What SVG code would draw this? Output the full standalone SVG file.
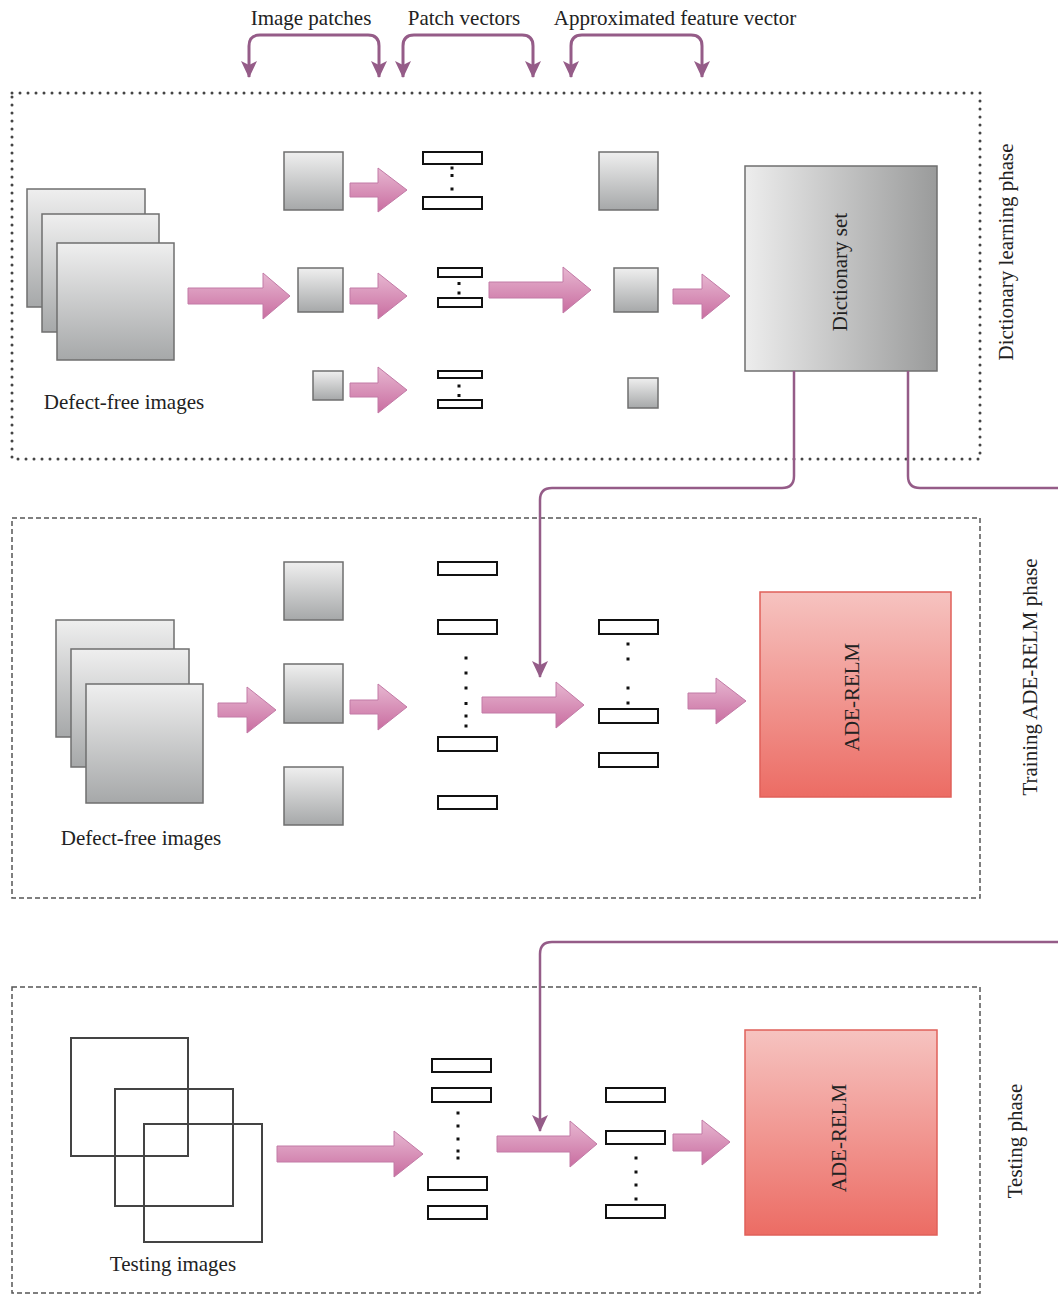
<svg xmlns="http://www.w3.org/2000/svg" width="1058" height="1294" viewBox="0 0 1058 1294">
<defs>
<linearGradient id="gGray" x1="0" y1="0" x2="0" y2="1"><stop offset="0" stop-color="#efefef"/><stop offset="1" stop-color="#a6a8a9"/></linearGradient>
<linearGradient id="gDict" x1="0" y1="0" x2="1" y2="0"><stop offset="0" stop-color="#ededed"/><stop offset="1" stop-color="#9a9b9b"/></linearGradient>
<linearGradient id="gRed" x1="0" y1="0" x2="0" y2="1"><stop offset="0" stop-color="#f6c3c0"/><stop offset="1" stop-color="#ec6c64"/></linearGradient>
<linearGradient id="gPink" x1="0" y1="0" x2="0" y2="1"><stop offset="0" stop-color="#e7b7d1"/><stop offset="1" stop-color="#c96da0"/></linearGradient>
<marker id="mArrow" viewBox="0 0 18 18" refX="16" refY="9" markerWidth="18" markerHeight="18" markerUnits="userSpaceOnUse" orient="auto">
<path d="M0,1 L17,9 L0,17 L4,9 Z" fill="#955c88"/>
</marker>
<style>
.txt{font-family:"Liberation Serif","Times New Roman",serif;font-size:21px;fill:#222}
.patch{fill:url(#gGray);stroke:#6f6f6f;stroke-width:1.5}
.vec{fill:#fff;stroke:#111;stroke-width:2}
.dot{fill:#111}
.parrow{fill:url(#gPink);stroke:#c27aa6;stroke-width:1}
.conn{fill:none;stroke:#955c88;stroke-width:2.5;marker-end:url(#mArrow)}
.conn2{fill:none;stroke:#955c88;stroke-width:2.5}
.bracket{fill:none;stroke:#955c88;stroke-width:3;marker-end:url(#mArrow)}
.dotted{fill:none;stroke:#444;stroke-width:3;stroke-dasharray:0 8;stroke-linecap:round}
.dashed{fill:none;stroke:#555;stroke-width:1.5;stroke-dasharray:5 3}
.timg{fill:none;stroke:#444;stroke-width:2}
</style>
</defs>
<rect width="1058" height="1294" fill="#fff"/>

<!-- phase boxes -->
<g id="phase-dictionary">
<rect class="dotted" x="12" y="93" width="968" height="366"/>
<text class="txt" transform="rotate(-90 1006 252)" x="1006" y="259" text-anchor="middle">Dictionary learning phase</text>
</g>
<g id="phase-training">
<rect class="dashed" x="12" y="518" width="968" height="380"/>
<text class="txt" transform="rotate(-90 1030 677)" x="1030" y="684" text-anchor="middle">Training ADE-RELM phase</text>
</g>
<g id="phase-testing">
<rect class="dashed" x="12" y="987" width="968" height="306"/>
<text class="txt" transform="rotate(-90 1015 1141)" x="1015" y="1148" text-anchor="middle">Testing phase</text>
</g>

<!-- top labels -->
<g id="labels">
<text class="txt" x="311" y="25" text-anchor="middle">Image patches</text>
<text class="txt" x="464" y="25" text-anchor="middle">Patch vectors</text>
<text class="txt" x="675" y="25" text-anchor="middle">Approximated feature vector</text>
</g>

<!-- Row 1: dictionary learning -->
<g id="dl-images">
<rect class="patch" x="27" y="189" width="118" height="118"/>
<rect class="patch" x="42" y="214" width="117" height="118"/>
<rect class="patch" x="57" y="243" width="117" height="117"/>
<text class="txt" x="124" y="409" text-anchor="middle">Defect-free images</text>
</g>
<g id="dl-patches">
<rect class="patch" x="284" y="152" width="59" height="58"/>
<rect class="patch" x="298" y="268" width="45" height="44"/>
<rect class="patch" x="313" y="371" width="30" height="29"/>
</g>
<g id="dl-vectors">
<rect class="vec" x="423" y="152" width="59" height="12"/>
<rect class="vec" x="423" y="197" width="59" height="12"/>
<rect class="dot" x="450.5" y="166.5" width="3" height="3"/>
<rect class="dot" x="450.5" y="174" width="3" height="3"/>
<rect class="dot" x="450.5" y="187.5" width="3" height="3"/>
<rect class="vec" x="438" y="268" width="44" height="9"/>
<rect class="vec" x="438" y="298" width="44" height="9"/>
<rect class="dot" x="457.5" y="282" width="3" height="3"/>
<rect class="dot" x="457.5" y="291.5" width="3" height="3"/>
<rect class="vec" x="438" y="371" width="44" height="7"/>
<rect class="vec" x="438" y="400" width="44" height="8"/>
<rect class="dot" x="457.5" y="384.5" width="3" height="3"/>
<rect class="dot" x="457.5" y="394" width="3" height="3"/>
</g>
<g id="dl-approx">
<rect class="patch" x="599" y="152" width="59" height="58"/>
<rect class="patch" x="614" y="268" width="44" height="44"/>
<rect class="patch" x="628" y="378" width="30" height="30"/>
</g>
<g id="dictionary-set">
<rect x="745" y="166" width="192" height="205" fill="url(#gDict)" stroke="#6f6f6f" stroke-width="1.5"/>
<text class="txt" transform="rotate(-90 840 272)" x="840" y="279" text-anchor="middle">Dictionary set</text>
</g>

<!-- Row 2: training -->
<g id="tr-images">
<rect class="patch" x="56" y="620" width="118" height="117"/>
<rect class="patch" x="71" y="649" width="118" height="118"/>
<rect class="patch" x="86" y="684" width="117" height="119"/>
<text class="txt" x="141" y="845" text-anchor="middle">Defect-free images</text>
</g>
<g id="tr-patches">
<rect class="patch" x="284" y="562" width="59" height="58"/>
<rect class="patch" x="284" y="664" width="59" height="59"/>
<rect class="patch" x="284" y="767" width="59" height="58"/>
</g>
<g id="tr-vectors">
<rect class="vec" x="438" y="562" width="59" height="13"/>
<rect class="vec" x="438" y="620" width="59" height="14"/>
<rect class="vec" x="438" y="737" width="59" height="14"/>
<rect class="vec" x="438" y="796" width="59" height="13"/>
<rect class="dot" x="464.5" y="656.5" width="3" height="3"/>
<rect class="dot" x="464.5" y="671.5" width="3" height="3"/>
<rect class="dot" x="464.5" y="686.5" width="3" height="3"/>
<rect class="dot" x="464.5" y="702" width="3" height="3"/>
<rect class="dot" x="464.5" y="714.5" width="3" height="3"/>
<rect class="dot" x="464.5" y="724.5" width="3" height="3"/>
</g>
<g id="tr-features">
<rect class="vec" x="599" y="620" width="59" height="14"/>
<rect class="vec" x="599" y="709" width="59" height="14"/>
<rect class="vec" x="599" y="753" width="59" height="14"/>
<rect class="dot" x="626.5" y="642.5" width="3" height="3"/>
<rect class="dot" x="626.5" y="657.5" width="3" height="3"/>
<rect class="dot" x="626.5" y="686.5" width="3" height="3"/>
<rect class="dot" x="626.5" y="701.5" width="3" height="3"/>
</g>
<g id="tr-adrelm">
<rect x="760" y="592" width="191" height="205" fill="url(#gRed)" stroke="#e0605a" stroke-width="1.5"/>
<text class="txt" transform="rotate(-90 852 697)" x="852" y="704" text-anchor="middle">ADE-RELM</text>
</g>

<!-- Row 3: testing -->
<g id="te-images">
<rect class="timg" x="71" y="1038" width="117" height="118"/>
<rect class="timg" x="115" y="1089" width="118" height="117"/>
<rect class="timg" x="144" y="1124" width="118" height="118"/>
<text class="txt" x="173" y="1271" text-anchor="middle">Testing images</text>
</g>
<g id="te-vectors">
<rect class="vec" x="432" y="1059" width="59" height="13"/>
<rect class="vec" x="432" y="1088" width="59" height="14"/>
<rect class="vec" x="428" y="1177" width="59" height="13"/>
<rect class="vec" x="428" y="1206" width="59" height="13"/>
<rect class="dot" x="456.5" y="1111.5" width="3" height="3"/>
<rect class="dot" x="456.5" y="1124.5" width="3" height="3"/>
<rect class="dot" x="456.5" y="1137.5" width="3" height="3"/>
<rect class="dot" x="456.5" y="1149.5" width="3" height="3"/>
<rect class="dot" x="456.5" y="1156.5" width="3" height="3"/>
</g>
<g id="te-features">
<rect class="vec" x="606" y="1088" width="59" height="14"/>
<rect class="vec" x="606" y="1131" width="59" height="13"/>
<rect class="vec" x="606" y="1205" width="59" height="13"/>
<rect class="dot" x="634.5" y="1156.5" width="3" height="3"/>
<rect class="dot" x="634.5" y="1170.5" width="3" height="3"/>
<rect class="dot" x="634.5" y="1183.5" width="3" height="3"/>
<rect class="dot" x="634.5" y="1197.5" width="3" height="3"/>
</g>
<g id="te-adrelm">
<rect x="745" y="1030" width="192" height="205" fill="url(#gRed)" stroke="#e0605a" stroke-width="1.5"/>
<text class="txt" transform="rotate(-90 839 1138)" x="839" y="1145" text-anchor="middle">ADE-RELM</text>
</g>

<!-- connectors -->
<g id="connectors">
<!-- top brackets -->
<path class="bracket" d="M249,46 Q249,35 260,35 H368 Q379,35 379,46 V77"/>
<path class="bracket" d="M249,46 V77"/>
<path class="bracket" d="M403,46 Q403,35 414,35 H522 Q533,35 533,46 V77"/>
<path class="bracket" d="M403,46 V77"/>
<path class="bracket" d="M571,46 Q571,35 582,35 H691 Q702,35 702,46 V77"/>
<path class="bracket" d="M571,46 V77"/>

<!-- dictionary outputs -->
<path class="conn" d="M794,371 V476 Q794,488 782,488 H552 Q540,488 540,500 V677"/>
<path class="conn2" d="M908,371 V476 Q908,488 920,488 H1058"/>
<path class="conn" d="M1058,942 H552 Q540,942 540,954 V1131"/>

<!-- block arrows -->
<polygon class="parrow" points="188,288 263,288 263,273 290,296 263,319 263,304 188,304"/>
<polygon class="parrow" points="350,183 378,183 378,168 407,190 378,212 378,197 350,197"/>
<polygon class="parrow" points="350,288 378,288 378,273 407,296 378,319 378,304 350,304"/>
<polygon class="parrow" points="350,383 378,383 378,367 407,390 378,413 378,397 350,397"/>
<polygon class="parrow" points="489,282 563,282 563,267 591,290 563,313 563,298 489,298"/>
<polygon class="parrow" points="673,289 702,289 702,274 730,296 702,319 702,304 673,304"/>

<polygon class="parrow" points="218,703 247,703 247,687 276,710 247,733 247,717 218,717"/>
<polygon class="parrow" points="350,700 378,700 378,684 407,707 378,730 378,714 350,714"/>
<polygon class="parrow" points="482,697 556,697 556,682 584,705 556,728 556,713 482,713"/>
<polygon class="parrow" points="688,693 716,693 716,678 746,701 716,724 716,709 688,709"/>

<polygon class="parrow" points="277,1146 394,1146 394,1131 423,1154 394,1177 394,1162 277,1162"/>
<polygon class="parrow" points="497,1136 570,1136 570,1121 597,1144 570,1167 570,1152 497,1152"/>
<polygon class="parrow" points="673,1134 702,1134 702,1120 730,1142 702,1165 702,1151 673,1151"/>
</g>
</svg>
